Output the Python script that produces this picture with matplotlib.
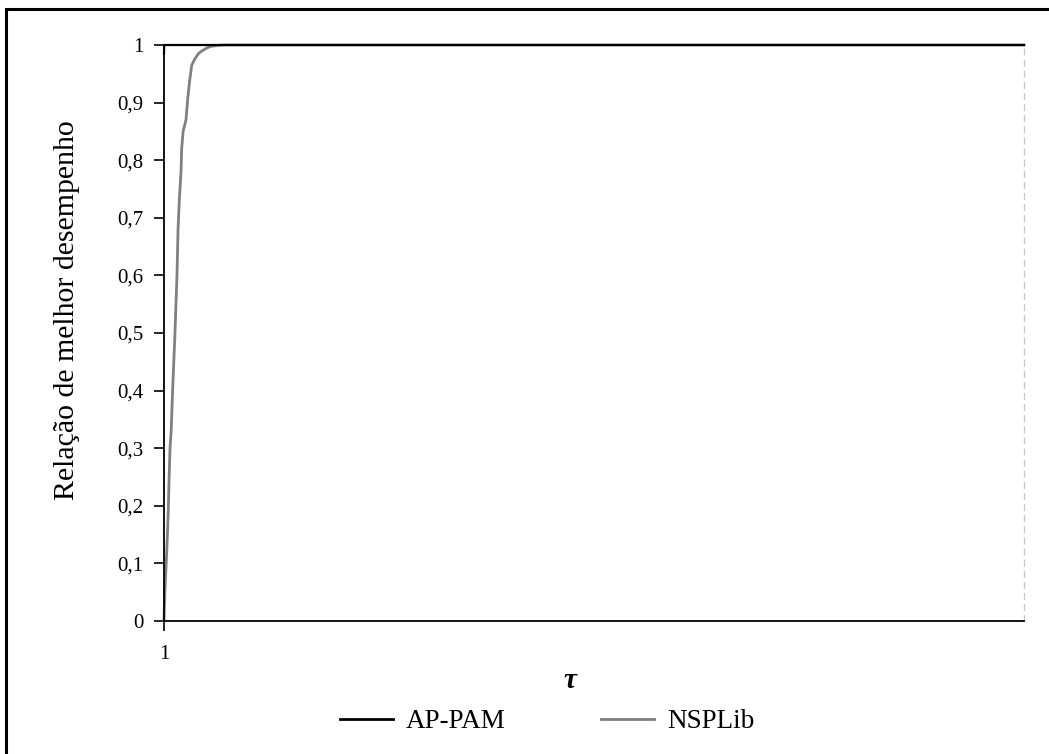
import matplotlib
matplotlib.use("Agg")
import matplotlib.pyplot as plt
from matplotlib.lines import Line2D
from matplotlib.patches import Rectangle

plt.rcParams['font.family'] = ['Liberation Serif', 'DejaVu Serif']

# performance profile data (tau vs. fraction of problems)
tau_ap = [1.0, 1.002, 10.0]
rho_ap = [0.985, 1.0, 1.0]

tau_nsp = [1.0, 1.003, 1.01, 1.02, 1.028, 1.038, 1.045, 1.052, 1.063, 1.075, 1.09,
           1.10, 1.115, 1.125, 1.136, 1.147, 1.16, 1.178, 1.185, 1.20, 1.23,
           1.25, 1.27, 1.29, 1.32, 1.36, 1.40, 1.45, 1.50, 1.555, 1.62, 10.0]
rho_nsp = [0.0, 0.02, 0.054, 0.09, 0.118, 0.16, 0.193, 0.24, 0.30, 0.33, 0.40,
           0.44, 0.50, 0.55, 0.60, 0.68, 0.73, 0.78, 0.82, 0.85, 0.87,
           0.91, 0.94, 0.965, 0.975, 0.985, 0.99, 0.995, 0.998, 0.999, 1.0, 1.0]

y_ticks = [0.0, 0.1, 0.2, 0.3, 0.4, 0.5, 0.6, 0.7, 0.8, 0.9, 1.0]
y_labels = ['0', '0,1', '0,2', '0,3', '0,4', '0,5', '0,6', '0,7', '0,8', '0,9', '1']

fig = plt.figure(figsize=(10.49, 7.54), dpi=100)
ax = fig.add_axes([164/1049, 1-621/754, 860/1049, 576/754])

ax.plot(tau_nsp, rho_nsp, color='#808080', lw=2.0, label='NSPLib', clip_on=False, zorder=2)
ax.plot(tau_ap, rho_ap, color='black', lw=1.6, label='AP-PAM', clip_on=False, zorder=3)

ax.set_xlim(1, 10)
ax.set_ylim(0, 1)
ax.set_yticks(y_ticks)
ax.set_yticklabels(y_labels)
ax.set_xticks([1])
ax.set_xticklabels(['1'])
ax.tick_params(axis='both', direction='out', length=7, width=1.2, labelsize=15, color='black')
ax.tick_params(axis='y', pad=8)
ax.tick_params(axis='x', pad=10)

ax.spines['top'].set_visible(False)
ax.spines['left'].set_linewidth(1.3)
ax.spines['bottom'].set_linewidth(1.3)
ax.spines['right'].set_color('#c8c8c8')
ax.spines['right'].set_linestyle((0, (4, 4)))
ax.spines['right'].set_linewidth(1.0)

ax.set_ylabel('Relação de melhor desempenho', fontsize=21.5)
ax.yaxis.set_label_coords(-0.098, 0.54)
fig.text(570/1049, 1-681/754, 'τ', fontsize=21, fontweight='bold', fontstyle='italic',
         ha='center', va='center')

handles = [Line2D([0], [0], color='black', lw=2),
           Line2D([0], [0], color='#808080', lw=2)]
fig.legend(handles, ['AP-PAM', 'NSPLib'], loc='center', bbox_to_anchor=(547/1049, 1-722/754),
           ncol=2, frameon=False, fontsize=19.5, handlelength=1.95, columnspacing=3.5,
           handletextpad=0.5)

# outer border of the chart area
fig.patches.append(Rectangle((6/1049, -0.02), 1.05, 1-9/754+0.02, transform=fig.transFigure,
                             fill=False, edgecolor='black', lw=2.2, clip_on=False))

fig.savefig('out.png', dpi=100, facecolor='white')
